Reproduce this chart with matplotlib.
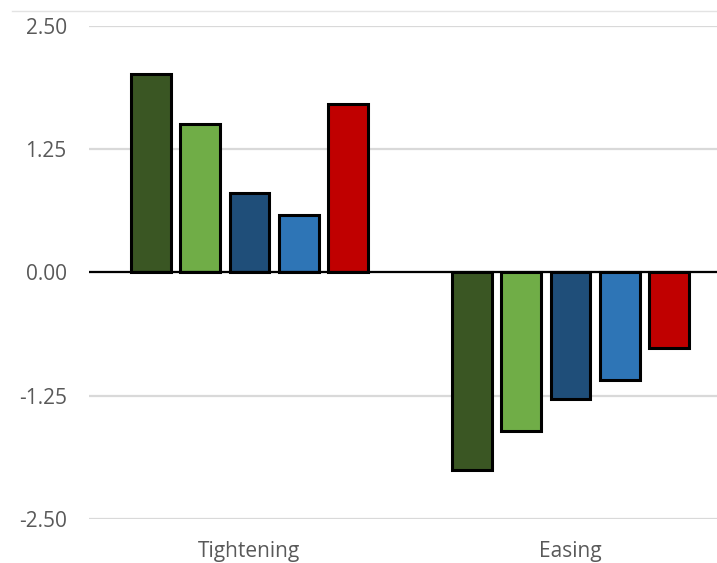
import matplotlib
matplotlib.use("Agg")
import matplotlib.pyplot as plt
import numpy as np
from matplotlib.lines import Line2D

categories = ["Tightening", "Easing"]
series_names = ["S1", "S2", "S3", "S4", "S5"]
series_values = [
    [2.01, -2.00],
    [1.50, -1.61],
    [0.80, -1.285],
    [0.58, -1.09],
    [1.71, -0.77],
]
series_colors = ["#3a5623", "#70ad47", "#1f4e79", "#2e75b6", "#c00000"]
tick_values = [-2.50, -1.25, 0.00, 1.25, 2.50]
tick_labels = ["-2.50", "-1.25", "0.00", "1.25", "2.50"]

W, H = 717, 563
fig = plt.figure(figsize=(W / 100, H / 100), dpi=100)
fig.patch.set_facecolor("white")

# axes extends past the right edge of the canvas
left, right = 89, 731
bottom, top = 519, 25.7
ax = fig.add_axes([left / W, (H - bottom) / H, (right - left) / W, (bottom - top) / H])

x = np.arange(len(categories))
width = 0.1246
step = 0.154
for i, (vals, col) in enumerate(zip(series_values, series_colors)):
    ax.bar(x + (i - 2) * step, vals, width=width, color=col,
           edgecolor="black", linewidth=2.2, zorder=3)

ax.set_xlim(-0.5, 1.5)
ax.set_ylim(-2.5, 2.5)
ax.set_yticks(tick_values)
ax.set_yticklabels(tick_labels)
ax.yaxis.grid(True, color="#d9d9d9", linewidth=1.6, zorder=0)
ax.set_axisbelow(True)
ax.axhline(0, color="black", linewidth=1.6, zorder=4)

for s in ax.spines.values():
    s.set_visible(False)

ax.tick_params(axis="y", length=0, pad=16, labelsize=15, labelcolor="#595959")
ax.set_xticks(x)
ax.set_xticklabels(categories)
ax.tick_params(axis="x", length=0, pad=16, labelsize=15, labelcolor="#595959")
for lab in ax.get_xticklabels() + ax.get_yticklabels():
    lab.set_fontfamily(["Open Sans", "DejaVu Sans"])

# thin frame line at the top of the chart area
fig.add_artist(Line2D([12 / W, 1.0], [(H - 11) / H, (H - 11) / H],
                      color="#e3e3e3", linewidth=1.0, transform=fig.transFigure))

fig.savefig("out.png", dpi=100)
